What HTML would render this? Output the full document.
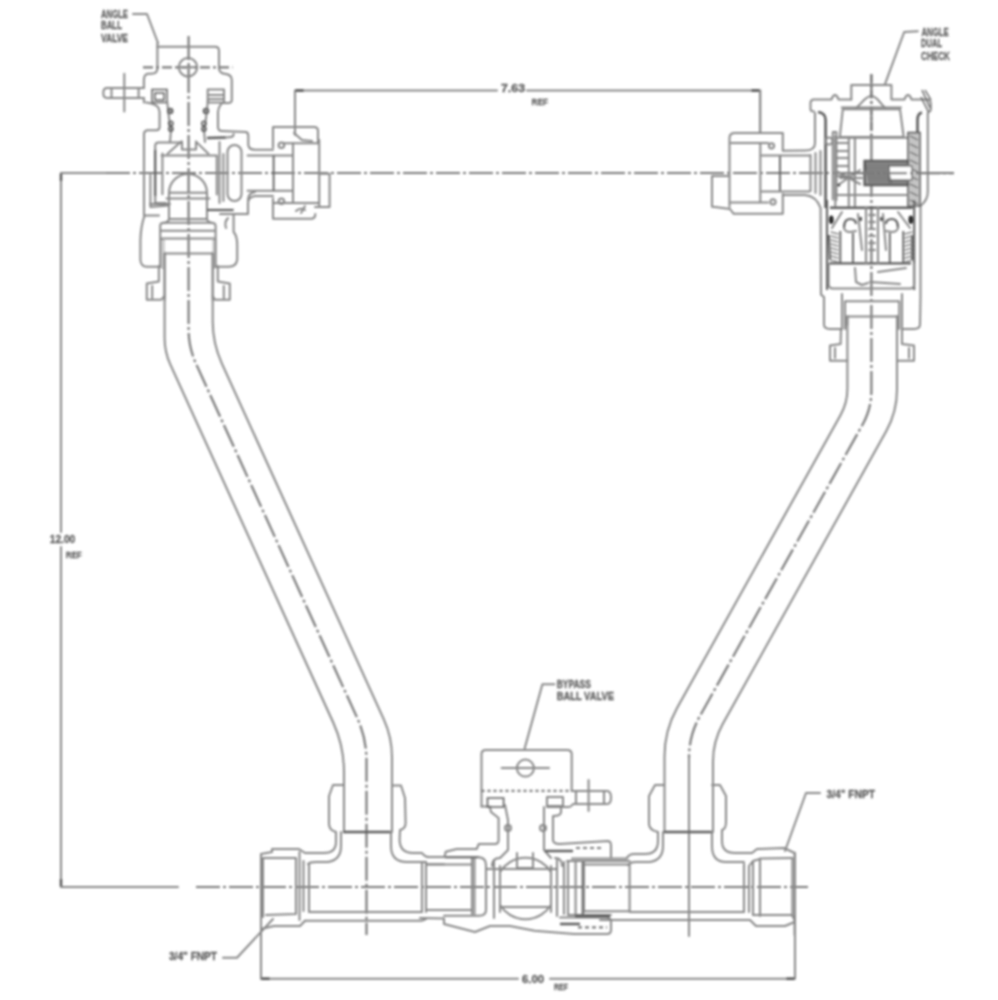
<!DOCTYPE html>
<html><head><meta charset="utf-8">
<style>
html,body{margin:0;padding:0;background:#fff;}
svg{display:block;}
.l{fill:none;stroke:#888;stroke-width:2;stroke-linejoin:round;stroke-linecap:round;}
.d{fill:none;stroke:#5c5c5c;stroke-width:2;}
.c{fill:none;stroke:#7a7a7a;stroke-width:2.2;stroke-dasharray:24 3 3 3;}
text{font-family:"Liberation Sans",sans-serif;font-size:9px;fill:#606060;stroke:#606060;stroke-width:0.3;font-weight:bold;}
</style></head>
<body>
<svg width="998" height="1000" viewBox="0 0 998 1000">
<defs><filter id="b" x="0" y="0" width="998" height="1000" filterUnits="userSpaceOnUse"><feGaussianBlur stdDeviation="0.8"/></filter></defs>
<rect width="998" height="1000" fill="#fff"/>
<g filter="url(#b)">
<g id="dims">
<!-- left vertical dimension 12.00 -->
<path class="l" d="M61,173 L106,173 M61,173 L61,532 M61,547 L61,887 L178,887"/>
<path class="c" d="M106,173 L954,173"/>
<path class="c" d="M196,887 L808,887"/>
<!-- top dimension 7.63 -->
<path class="l" d="M295,135 L295,90.5 L497,90.5 M527,90.5 L760,90.5 L760,132"/>
<!-- bottom dimension 6.00 -->
<path class="l" d="M261,978.7 L518,978.7 M550,978.7 L795,978.7 L795,853"/>
<path class="l" d="M261,922 L261,978.7"/>
</g>
<path d="M295.5,90.5 L303.6,90.5 M751.4,90.5 L759.5,90.5 M61,173.5 L61,181 M61,879 L61,886.5 M261.5,978.7 L269.6,978.7 M786.4,978.7 L794.5,978.7" style="fill:none;stroke:#505050;stroke-width:2.4"/>
<g id="texts">
<text x="101" y="18.1" textLength="27" lengthAdjust="spacingAndGlyphs" style="font-size:10.5px">ANGLE</text>
<text x="101" y="29.3" textLength="21" lengthAdjust="spacingAndGlyphs" style="font-size:10.5px">BALL</text>
<text x="101" y="42.0" textLength="27" lengthAdjust="spacingAndGlyphs" style="font-size:10.5px">VALVE</text>
<text x="921.5" y="35.5" textLength="27.100000000000023" lengthAdjust="spacingAndGlyphs" style="font-size:10.5px">ANGLE</text>
<text x="921" y="47.3" textLength="21" lengthAdjust="spacingAndGlyphs" style="font-size:10.5px">DUAL</text>
<text x="921" y="60.1" textLength="29" lengthAdjust="spacingAndGlyphs" style="font-size:10.5px">CHECK</text>
<text x="501" y="92.1" textLength="24" lengthAdjust="spacingAndGlyphs" style="font-size:10px">7.63</text>
<text x="531.5" y="104.5" textLength="16.5" lengthAdjust="spacingAndGlyphs" style="font-size:9.5px">REF</text>
<text x="49.7" y="543.1" textLength="25.599999999999994" lengthAdjust="spacingAndGlyphs" style="font-size:10px">12.00</text>
<text x="65.7" y="558.0" textLength="16.0" lengthAdjust="spacingAndGlyphs" style="font-size:9.5px">REF</text>
<text x="556.7" y="687.6" textLength="34.19999999999993" lengthAdjust="spacingAndGlyphs" style="font-size:10.5px">BYPASS</text>
<text x="556.7" y="699.6" textLength="57.299999999999955" lengthAdjust="spacingAndGlyphs" style="font-size:10.5px">BALL VALVE</text>
<text x="169" y="960.1" textLength="48" lengthAdjust="spacingAndGlyphs" style="font-size:10px">3/4" FNPT</text>
<text x="826.5" y="798.1" textLength="48.5" lengthAdjust="spacingAndGlyphs" style="font-size:10px">3/4" FNPT</text>
<text x="522" y="982.6" textLength="22" lengthAdjust="spacingAndGlyphs" style="font-size:10px">6.00</text>
<text x="554" y="990.0" textLength="14" lengthAdjust="spacingAndGlyphs" style="font-size:9.5px">REF</text>
</g>
<path class="l" d="M223,957.7 L237,957.7 L273,919"/>
<g id="pipes">
<path class="l" d="M164.6,253.0 L164.6,337.9 Q164.6,351.9 170.4,364.6 L333.2,722.5 Q344.0,746.2 344.0,772.2 L344.0,832.0"/>
<path class="l" d="M212.7,253.0 L212.7,321.3 Q212.7,343.3 221.8,363.3 L383.7,719.2 Q392.0,737.4 392.0,757.4 L392.0,832.0"/>
<path class="l" d="M847.4,316.0 L847.4,388.7 Q847.4,402.7 840.6,414.9 L677.2,707.7 Q664.5,730.4 664.5,756.4 L664.5,832.0"/>
<path class="l" d="M897.0,316.0 L897.0,389.8 Q897.0,411.8 886.3,431.0 L722.7,724.1 Q713.0,741.5 713.0,761.5 L713.0,832.0"/>
<path class="c" d="M188.6,36.0 L188.6,329.5 Q188.6,347.5 196.1,363.9 L357.4,718.4 Q366.5,738.5 366.5,760.5 L366.5,935.0"/>
<path class="c" d="M871.4,74.0 L871.4,390.7 Q871.4,408.7 862.6,424.5 L699.7,716.4 Q689.0,735.6 689.0,757.6 L689.0,758.0"/>
<path class="l" d="M689,758 L689,936"/>
</g>
<g id="bottom">
<!-- LEFT TEE -->
<path class="l" d="M333,785 L343,785 M333,785 L329,796 L329,824 Q329,830 336,832 L336,842 Q336,853 324,853 L305,853 L299,849 L272,849 L272,852 L261,854 L261,929"/>
<path class="l" d="M308,864 Q310,862 316,862 L328,862 Q341,860 341,846 L341,832"/>
<path class="l" d="M263,858 L296,858 L296,914 L266,915 M263,858 L263,917"/>
<path class="l" d="M299.5,852 L299.5,920 M303.5,861 L303.5,911 M309,864 L309,912"/>
<path class="l" d="M309.5,912 L422,912 M305,920.7 L422,920.7 L426,919"/>
<path class="l" d="M261,929 L274,926 L300,926 L305,920.7"/>
<path class="d" d="M343,832 L391,832" style="stroke-width:2.4"/>
<path class="l" d="M391,832 L391,846 Q391,862 407,862 L426,862"/>
<path class="l" d="M392,785.5 L401,785.5 L405,798 L405.6,823 Q405.6,829 400,830 L399.6,840 Q400,853 413,853 L422,853 Q425,857 428,857 L440,857"/>
<path class="l" d="M422,862 L422,912 M426,862 L426,912"/>
<!-- CENTER VALVE left fitting -->
<path class="l" d="M426,864.6 L472,864.6 M426,910 L472,910 M472,858 L472,914 M474.5,858 L474.5,914"/>
<path class="l" d="M426,864.3 L444,864.3"/><path class="d" d="M444.6,857.3 L479,857.3" style="stroke-width:2"/><path class="l" d="M479,857.3 Q486,858 486,865 L486,910 Q486,915.7 479,915.7 L444,915.7"/>
<path class="l" d="M428,857 L444.6,857 L445.7,851.7 L456.7,849 L476.7,849 L478.8,844 L495,844 Q498.6,844 498.6,840 L498.6,818 L491,812 L489.8,806.5"/>
<path class="l" d="M481.5,806.5 L488,806.5"/>
<path class="d" d="M487.5,798 L503.6,798 L503.6,807 L487.5,807 Z" style="stroke-width:1.6"/>
<path class="l" d="M420,918 L444,918.6 L444,924 L475,932 L490,926 L510,926 L534.6,930.7 L574,934 L607,934 Q611,934 611,930 L611,921 Q611,917.5 606,917.5 L560,917.5"/>
<path class="d" d="M560,924 L580,924" style="stroke-width:2.5"/>
<path class="c" d="M578,927.4 L607,927.4" style="stroke-dasharray:4 3"/>
<!-- stem & ball -->
<path class="l" d="M505,805 L508,820 L508,850 L500,858 M544,807 L544,850 L551,858"/>
<circle class="l" cx="508" cy="828" r="3"/>
<circle class="l" cx="543" cy="828" r="3"/>
<path class="l" d="M517,853 L517,868 L533,868 L533,853"/>
<path class="l" d="M486,869 L557,869 M500,907 L551,907"/>
<path class="l" d="M500,872 A30,30 0 0 1 551,872 M500,905 A30,30 0 0 0 551,905"/>
<path class="l" d="M494,860 L494,918 M500,866 L500,912 M551,866 L551,912 M557,860 L557,916 M564,862 L564,914 M568,861 L568,914 M575.6,861 L575.6,914"/><path class="d" d="M582.8,861 L582.8,914" style="stroke-width:2.2"/>
<path class="l" d="M492,866 Q492,858 500,858 M555,858 Q562,858 562,866"/>
<path class="l" d="M572,858.4 L627,858.4 M567,861 L629.6,861 M568,915 L611,915"/>
<!-- right housing -->
<path class="l" d="M547,797 L563,797 L563,806 L547,806 Z"/>
<path class="l" d="M561,808 L561,812 Q561,816 553,816 L553,840 Q553,844 560,844 L608,841 Q611,841 611,846 L611,857"/>
<path class="d" d="M545,851 L573,851" style="stroke-width:2.4"/>
<path class="c" d="M576,848 L604,848" style="stroke-dasharray:4 3"/>
<!-- handle box -->
<path class="l" d="M481.5,806.5 L481.5,754 Q481.5,750 486,750 L567,750 Q571.7,750 571.7,754 L571.7,791"/>
<path class="c" d="M481.5,790.8 L571.7,790.8" style="stroke-dasharray:3 3"/>
<circle class="l" cx="525.4" cy="768.1" r="8.5"/>
<path class="l" d="M501.6,768.1 L549,768.1"/>
<path class="l" d="M571.7,791 L607,791 Q611,791 611,797.5 Q611,804 607,804 L573,804 Q571,807 569,807 L547,807"/>
<path class="l" d="M576,792 L576,803 M604,792 L604,803 M588.6,780 L588.6,811"/>
<path class="l" d="M524.7,748.3 L542.4,684.3 L554.5,684.3"/>
<!-- RIGHT TEE -->
<path class="l" d="M584,861 L584,912 M629.6,864 L629.6,911 M584,864.4 L629.6,864.4 M584,911.2 L629.6,911.2 M629.6,912 L744,912"/>
<path class="d" d="M575,916 L610,916" style="stroke-width:2.4"/>
<path class="l" d="M627,858 Q629,854 634,854 L645,854 Q658,854 658,841 L658,832 Q649,830 649,824 L649,796 L655,785 L664,785"/>
<path class="l" d="M628,865 Q630,862 636,862 L650,862 Q663,860 663,846 L663,832"/>
<path class="d" d="M664,832 L712,832" style="stroke-width:2.4"/>
<path class="l" d="M712,832 L712,846 Q712,862 726,862 L744,862"/>
<path class="l" d="M712,785 L720,785 L726,796 L726,822 Q726,829 722,830 L722,841 Q722,853 735,853 L752,853 L757,849 L784,848 L794.6,853 L794.6,935"/>
<path class="l" d="M744,864 L744,912 M749,866 L749,912 M749,866 L753,861 L760,859 M753,861 L753,915 M760,859 L760,916 M792.4,858 L792.4,916"/>
<path class="l" d="M760,858.5 L792,858 M753,915 L792,915 L794.6,920"/>
<path class="l" d="M600,920 L744,920 L750,920 L756,926 L785,926 L794.6,922"/>
<path class="l" d="M806,793 L820,793 M806,793 L785,851"/>
</g>

<g id="leftvalve">
<!-- leader -->
<path class="l" d="M133,14 L147,14 L158,43"/>
<!-- handle -->
<path class="l" d="M157.4,43 L157.4,68.6 Q157.4,73.8 151,73.8 L148,73.8 Q143.9,74.5 143.9,80 L143.9,88.1 M143.9,97.9 L143.9,102.4"/>
<path class="l" d="M157.4,46.8 L215.2,46.8 Q219,46.8 219,51 L219,68.6 Q219.5,73.5 226,74 Q231.8,75 231.8,80 L231.8,100 Q231.8,103 228,103 L224,103"/>
<path class="c" d="M143,67.4 L232.5,67.4" style="stroke-dasharray:10 3 3 3"/>
<circle class="l" cx="188" cy="67.3" r="9.2"/>
<path class="l" d="M180,67.3 L196,67.3"/>
<!-- stem extension -->
<path class="l" d="M143.9,88.1 L107,88.1 Q103.3,88.1 103.3,93 Q103.3,97.9 107,97.9 L143.9,97.9 M111.5,89 L111.5,97 M138.6,89 L138.6,97 M124.3,73.8 L124.3,111.4"/>
<!-- packing nuts -->
<path class="d" d="M152,89.6 L167,89.6 L167,102.4 L152,102.4 Z M155,93 L164,93 L164,100 L155,100 Z" style="stroke-width:1.5"/>
<path class="l" d="M207.7,89.4 L224,89.4 L224,102.4 L207.7,102.4 Z M209,95 L223,95 M209,99 L223,99"/>
<!-- housing -->
<path class="l" d="M146,102.4 Q153,103 157,106 Q159.6,108.5 159.6,112 L159.6,127 Q159.6,130.2 156,130.2 L147,130.2 Q144,131 144,134 L144,215.6 L159,215.6"/>
<path class="l" d="M224,102.4 Q219,104 218,112 L218,127 Q218,131 222,131 L246,132 Q248.3,132.5 248.3,136 L248.3,145 Q249,149.7 255,149.7 L273,149.7"/>
<path class="d" d="M207,138 L226,137.5" style="stroke-width:2.4"/><path class="l" d="M226,137.5 L231,137 Q233.6,136.8 233.6,134"/>
<path class="l" d="M167,100 L169,118 L171,130 L170,142 M208,100 L206,118 L204,130 L205,142"/>
<circle class="d" cx="170.2" cy="111" r="2.5" style="stroke-width:1.6;fill:#999"/>
<circle class="d" cx="170.8" cy="123.5" r="2.2" style="stroke-width:1.5"/>
<circle class="d" cx="170.8" cy="129" r="2.2" style="stroke-width:1.5"/>
<circle class="d" cx="206" cy="111" r="2.5" style="stroke-width:1.6;fill:#999"/>
<circle class="d" cx="203.9" cy="123.5" r="2.2" style="stroke-width:1.5"/>
<circle class="d" cx="203.9" cy="129" r="2.2" style="stroke-width:1.5"/>
<!-- body internals -->
<path class="l" d="M155.2,203 L155.2,146 Q155.2,142.6 159,142.6 L180.7,142.6 M150.4,175 L150.4,207 L168,205.4"/>
<path class="d" d="M155.2,150 L155.2,196" style="stroke-width:2"/>
<path class="l" d="M162.4,153.4 L162.4,194.2 M161.5,155.5 L216.8,155.5 L216.8,194.5"/>
<path class="l" d="M167.5,153.7 L181.3,141.6 M208.4,153.7 L196,141.6 M182,141.6 L182,149.5 L196,149.5 L196,141.6"/>
<path class="l" d="M169,193 A19,19 0 0 1 207,193 L207,219 Q207.5,222 212,223 M169,193 L169,219 Q168.5,222 164,223 M170,192.7 L207,192.7 M166.5,198.4 L209.5,198.4 M169,218.9 L207,218.9"/>
<path class="l" d="M150,204 L170,204 M154.8,203 L166,203"/>
<path class="d" d="M207,210 L233.6,210" style="stroke-width:2.2"/>
<!-- right connector -->
<rect class="l" x="227.5" y="145" width="14" height="56" rx="7"/>
<path class="l" d="M219.5,142 L219.5,203 M223.4,154 L223.4,201"/>
<path class="l" d="M247.6,155.6 L293,155.6 M247.6,190.8 L293,190.8"/>
<path class="d" d="M273.6,155.6 L273.6,190.8" style="stroke-width:1.8"/>
<path class="l" d="M273,196 L255,196 Q248,197 248,203 L248,214 L220,214"/>
<path class="l" d="M255,192 Q248,193 248,200"/>
<!-- union nut -->
<path class="l" d="M273,147.8 L273,127 L314,127 Q318,127 318,131 L318,143 M273,198.6 L273,218.8 L311,218.8 Q315.3,218.8 315.3,214"/>
<path class="l" d="M283,143.2 L319.2,143.2 M293,143 L293,203 M319.2,140 L319.2,207 M319.2,173.8 L329.6,173.8 L329.6,207 L315,207 M273,203 L319,203"/>
<path class="l" d="M294,133 L302,140 L312,141"/>
<circle class="l" cx="281.4" cy="145.2" r="2.8"/>
<circle class="l" cx="281.4" cy="201.2" r="2.8"/>
<path class="l" d="M296,211 Q300,207 305,210 M301,213 L305,206"/>
<path class="l" style="stroke-width:1.2" d="M161,240 L164.6,241.5 M212.7,241.5 L216,240 M161,243 L164.6,244.5 M212.7,244.5 L216,243 M161,246 L164.6,247.5 M212.7,247.5 L216,246 M161,249 L164.6,250.5 M212.7,250.5 L216,249 M161,252 L164.6,253.5 M212.7,253.5 L216,252 M161,255 L164.6,256.5 M212.7,256.5 L216,255 M161,258 L164.6,259.5 M212.7,259.5 L216,258 M161,261 L164.6,262.5 M212.7,262.5 L216,261 M161,264 L164.6,265.5 M212.7,265.5 L216,264 M161,267 L164.6,268.5 M212.7,268.5 L216,267"/>
<!-- tailpiece nut below -->
<path class="l" d="M160.2,267 L160.2,226 Q160.2,222.8 164,222.8 L211,222.8 Q215.6,222.8 215.6,226 L215.6,267"/>
<path class="l" d="M161,230.7 L215,230.7 M161,238.5 L215,238.5 M165,253.5 L212,253.5"/>
<path class="l" d="M144.6,215.6 Q141,225 140.4,239.7 L140.4,260 Q141,266.7 147,266.7 L160.2,266.7"/>
<path class="l" d="M233.6,214.4 L233.6,232 Q237.2,236 237.2,245 L237.2,260 Q236,266.7 228.8,266.7 L215.6,266.7"/>
<path class="l" d="M158.9,266 L158.9,281.6 L146.8,283.4 L146.8,299.7 L161.3,299.7 L164.6,296 M152.2,286 L152.2,298"/>
<path class="l" d="M217.8,266 L217.8,281.6 L229.8,283.4 L229.8,299.7 L215,299.7 L212.7,296 M223.8,286 L223.8,298"/>
<path class="l" d="M228,218 Q224,222 226,228"/>
<path class="l" d="M164.6,253.5 L164.6,300 M212.7,253.5 L212.7,300"/>
</g>

<g id="rightvalve">
<path class="l" d="M917.8,31.2 L904.2,32 L885,84.1"/>
<!-- cap -->
<path class="l" d="M851.3,99.4 L851.3,85 L891.4,85 L891.4,99.4 L904.5,99.4 Q906,95 908,95 Q910,95 911.5,99.4 L928,99.4"/>
<path class="l" d="M851.3,99.4 L838.5,99.4 Q837,95 835,95 Q833,95 831.5,99.4 L814,99.4 Q810.5,99.4 810.5,103 L810.5,109 Q810.5,111.5 814,111.5"/>
<path class="d" d="M922,90 L930,108 M925,90 L931,100 M921,97 L929,113" style="stroke-width:1.4"/>
<path class="l" d="M928,99.4 Q930.8,100 930.8,104 L930.8,109 Q930.8,111.5 928,112"/>
<path class="l" d="M856,107.9 C862,104 865,96 871.3,96 C877.5,96 880,104 885.5,107.9 M841.7,107.4 L901,107.4"/>
<path class="c" d="M871.3,74.5 L871.3,140" style="stroke-dasharray:8 3 2 3"/>
<!-- outer walls -->
<path class="d" d="M818,112 Q825.6,113 825.6,120 L825.6,208 M922,112.5 Q917.5,113.5 917.5,120 L917.5,133" style="stroke-width:2.6"/>
<path class="l" d="M815,113 L815,143 Q815,150.6 805,150.6 L782.8,150.7"/>
<path class="l" d="M927.8,113 L927.8,192 Q927.8,200 920.5,206 L920.5,297 L920,324.6 Q920,329 914,329 L902,329"/>
<path class="l" d="M782.8,194.9 L805,194.9 Q816.5,196 820.6,208 L821,294.6 L824,297 L824,324.6 Q824,329 830,329 L842,329"/>
<!-- piston housing -->
<path class="l" d="M842.8,109.3 L900,109.3 L903.7,137 L839.8,137 Z M836,137.8 L908,137.8"/>
<path class="d" d="M908,132.6 L920,132.6 L920,206 L908,206 Z" style="stroke-width:1.6;fill:#c4c4c4"/>
<path class="d" d="M910,136 L918,140 M910,144 L918,148 M910,152 L918,156 M910,160 L918,164 M910,168 L918,172 M910,176 L918,180 M910,184 L918,188 M910,192 L918,196 M910,200 L918,204" style="stroke-width:1.2"/>
<path class="d" d="M864.6,161 L908,161 L908,185 L864.6,185 Z" style="stroke-width:2.4;fill:#9a9a9a"/>
<path class="l" d="M889,166 L912,166 L912,180 L889,180 Z" style="fill:#fff"/>
<path class="d" d="M866,163 L870,183 M869,163 L873,183 M872,163 L876,183 M875,163 L879,183 M878,163 L882,183 M881,163 L885,183 M884,163 L888,183 M887,163 L891,183 M890,163 L890,166 M890,180 L890,183 M893,163 L893,166 M893,180 L893,183 M896,163 L896,166 M896,180 L896,183 M899,163 L899,166 M899,180 L899,183 M902,163 L902,166 M902,180 L902,183 M905,163 L905,166 M905,180 L905,183" style="stroke-width:1.3"/>
<path class="l" d="M848.8,138 L848.8,206 M854.9,138 L854.9,206 M835.3,136 L835.3,206 M835,195 L908,195"/>
<path class="l" d="M836,143 L848,143 M836,151 L848,151 M836,158 L848,158 M836,166 L848,166 M836,176 L848,176"/>
<path class="l" d="M838,185 L860,170 M840,178 L862,178 M838,172 L860,184"/>
<path class="c" d="M850,173.2 L954,173.2"/>
<!-- check module -->
<path class="d" d="M830,207.8 L912.7,207.8 M829,263.4 L911,263.4" style="stroke-width:2.4"/>
<path class="d" d="M827,200 L827,290 M914.2,200 L914.2,290" style="stroke-width:2"/>
<ellipse cx="831.3" cy="219.8" rx="2.4" ry="4.3" fill="#2a2a2a"/>
<ellipse cx="910.8" cy="219.8" rx="2.4" ry="4.3" fill="#2a2a2a"/>
<path class="d" d="M840.3,231 L840.3,263 M853,233 L853,263 M889.8,233 L889.8,263 M903.3,231 L903.3,263" style="stroke-width:1.8"/>
<path class="d" d="M844,228 Q844,219 850,219 Q856,219 856,224 M886,224 Q886,219 892,219 Q898,219 898,228" style="stroke-width:2.2"/><path class="l" d="M844,228 Q845,232 850,232 L856,231 M898,228 Q897,232 892,232 L886,231"/><rect x="859" y="217" width="3" height="4" fill="#555"/><rect x="880" y="217" width="3" height="4" fill="#555"/>
<path class="l" d="M832,228 L842,212 M910,228 L898,212"/>
<path class="l" d="M866,208 L866,263 M878,208 L878,263 M869,215 L875,215 M869,222 L875,222 M869,229 L875,229 M869,236 L875,236 M869,243 L875,243 M869,250 L875,250"/>
<path class="l" d="M858,214 L862,250 M883,214 L886,250"/>
<path class="d" d="M829,235 L830,260 M912,235 L912,260" style="stroke-width:2"/>
<path class="l" d="M828.6,264.5 L828.6,284 Q828.6,288.6 833,288.6 L910,288.6 Q914.2,288.6 914.2,284 L914.2,264.5"/>
<path class="l" d="M855,268 L856,282 L862,285 L868,283 M878,272 L906,268 M870,282 L900,284"/>
<path class="l" style="stroke-width:1.4" d="M831,232 L838,234 M905,234 L912,232 M831,236 L838,238 M905,238 L912,236 M831,240 L838,242 M905,242 L912,240 M831,244 L838,246 M905,246 L912,244 M831,248 L838,250 M905,250 L912,248 M831,252 L838,254 M905,254 L912,252 M831,256 L838,258 M905,258 L912,256 M831,260 L838,262 M905,262 L912,260"/>
<!-- tailpiece -->
<path class="l" d="M845,329 L845,301.3 L899.2,301.3 L899.2,329 M848,316.4 L896,316.4 M842,294 L842,329 M902,294 L902,329"/>
<path class="l" d="M841,329 L840.6,344 L830,345.5 L830,360.7 L847.4,360.7 M902,329 L902,344 L914,345.5 L914,360.7 L897,360.7"/>
<path class="l" d="M835,348 L835,358 M909,348 L909,358"/>
<path class="l" d="M847.4,316.4 L847.4,325 M897,316.4 L897,325"/>
<!-- left union/neck -->
<path class="l" d="M782.8,150.6 L782.8,133.1 L735,133.1 Q729.5,133.1 729.5,138 L729.5,206.8 M782.8,194 L782.8,213.8 L733.7,213.8 L730,209 L715,207 L712,206.8 L712,176 L729.5,176"/>
<path class="l" d="M731,143 L768,143 M731,202.6 L768,202.6 M760.3,143 L760.3,202.6"/>
<circle class="l" cx="771.5" cy="145.8" r="2.6"/>
<circle class="l" cx="773" cy="201.9" r="2.6"/>
<path class="d" d="M780,155.6 L780,191.4" style="stroke-width:1.8"/>
<path class="l" d="M762,155.6 L809.4,155.6 M762,191.4 L809.4,191.4"/>
<path class="l" d="M810.5,155 L810.5,191 M815.5,153 L815.5,193 M820.5,151 L820.5,195 M832.8,132 L832.8,199.5 M832.8,132 L836.4,132 L836.4,200"/>
<circle class="l" cx="829" cy="141" r="3.5"/><ellipse cx="838.8" cy="185" rx="1.6" ry="1.6" fill="#444"/>
<path class="l" d="M760.3,90.5 L760.3,133"/>
</g>

</g>
</svg>
</body></html>
